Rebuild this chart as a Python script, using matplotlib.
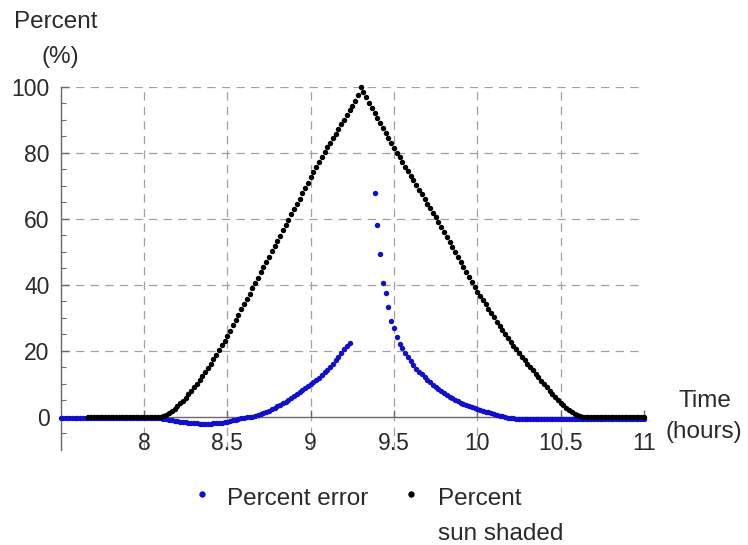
import numpy as np
import matplotlib
matplotlib.use("Agg")
import matplotlib.pyplot as plt
from matplotlib.lines import Line2D

plt.rcParams["font.family"] = ["Liberation Sans", "DejaVu Sans"]
plt.rcParams["lines.scale_dashes"] = False

nan = np.nan

# ---- sampling: one reading per minute from 7:30 to 11:00 ----
start_hour = 7.5
step_minutes = 1

# Percent sun shaded (black), 7:30 .. 11:00
black_pct = [
    # 7:30 - 7:39 (no points)
    nan, nan, nan, nan, nan, nan, nan, nan, nan, nan,
    # 7:40 - 8:06
    0.0, 0.0, 0.0, 0.0, 0.0, 0.0, 0.0, 0.0, 0.0, 0.0,
    0.0, 0.0, 0.0, 0.0, 0.0, 0.0, 0.0, 0.0, 0.0, 0.0,
    0.0, 0.0, 0.0, 0.0, 0.0, 0.0, 0.0,
    # 8:07 - 9:18
    0.2, 0.6, 1.1, 1.7, 2.4, 3.2, 4.0, 4.9, 5.8, 6.8,
    7.8, 8.9, 10.0, 11.1, 12.3, 13.5, 14.8, 16.1, 17.4, 18.8,
    20.2, 21.6, 23.0, 24.5, 26.1, 27.7, 29.3, 30.9, 32.5, 34.1,
    35.7, 37.3, 38.9, 40.5, 42.1, 43.7, 45.3, 46.9, 48.5, 50.1,
    51.7, 53.3, 54.9, 56.5, 58.1, 59.7, 61.3, 62.9, 64.5, 66.1,
    67.7, 69.3, 70.9, 72.5, 74.1, 75.6, 77.1, 78.6, 80.1, 81.6,
    83.0, 84.4, 85.8, 87.2, 88.6, 90.0, 91.4, 92.8, 94.2, 95.7,
    97.5, 99.8,
    # 9:19 - 10:37
    98.4, 96.8, 95.2, 93.6, 92.0, 90.5, 89.0, 87.5, 86.0, 84.5,
    83.0, 81.5, 80.0, 78.6, 77.2, 75.8, 74.4, 73.0, 71.6, 70.2,
    68.8, 67.4, 66.0, 64.6, 63.2, 61.8, 60.4, 58.9, 57.4, 55.9,
    54.4, 52.9, 51.4, 49.9, 48.4, 46.9, 45.4, 43.9, 42.4, 40.9,
    39.4, 37.9, 36.6, 35.3, 34.0, 32.7, 31.4, 30.1, 28.8, 27.5,
    26.3, 25.1, 23.9, 22.7, 21.5, 20.4, 19.3, 18.2, 17.1, 16.0,
    15.0, 14.0, 13.0, 12.0, 10.9, 9.9, 8.9, 7.9, 7.0, 6.1,
    5.1, 4.2, 3.4, 2.6, 1.9, 1.3, 0.8, 0.4, 0.1,
    # 10:38 - 11:00
    0.0, 0.0, 0.0, 0.0, 0.0, 0.0, 0.0, 0.0, 0.0, 0.0,
    0.0, 0.0, 0.0, 0.0, 0.0, 0.0, 0.0, 0.0, 0.0, 0.0,
    0.0, 0.0, 0.0,
]

# Percent error (blue), 7:30 .. 11:00
blue_pct = [
    # 7:30 - 8:06
    -0.5, -0.5, -0.5, -0.5, -0.5, -0.5, -0.5, -0.5, -0.5, -0.5,
    -0.5, -0.5, -0.5, -0.5, -0.5, -0.5, -0.5, -0.5, -0.5, -0.5,
    -0.5, -0.5, -0.5, -0.5, -0.5, -0.5, -0.5, -0.5, -0.5, -0.5,
    -0.5, -0.5, -0.5, -0.5, -0.5, -0.5, -0.5,
    # 8:07 - 8:39
    -0.6, -0.7, -0.9, -1.0, -1.2, -1.3, -1.5, -1.6, -1.7, -1.8,
    -1.9, -2.0, -2.0, -2.1, -2.1, -2.1, -2.1, -2.1, -2.0, -2.0,
    -1.9, -1.8, -1.7, -1.5, -1.3, -1.1, -0.9, -0.7, -0.5, -0.3,
    -0.2, -0.1, 0.0,
    # 8:40 - 9:14
    0.1, 0.4, 0.7, 1.0, 1.4, 1.8, 2.2, 2.6, 3.1, 3.6,
    4.1, 4.6, 5.1, 5.7, 6.2, 6.8, 7.4, 8.0, 8.6, 9.2,
    9.8, 10.5, 11.1, 11.8, 12.6, 13.4, 14.3, 15.2, 16.1, 17.1,
    18.2, 19.3, 20.4, 21.5, 22.3,
    # 9:15 - 9:22 (off scale, no points)
    nan, nan, nan, nan, nan, nan, nan, nan,
    # 9:23 - 9:31
    67.8, 58.0, 49.3, 40.5, 37.6, 33.3, 29.1, 26.8, 24.3,
    # 9:32 - 10:13
    21.9, 20.7, 19.4, 18.2, 16.9, 15.6, 14.5, 13.6, 12.8, 12.0,
    11.2, 10.4, 9.7, 9.1, 8.4, 7.8, 7.2, 6.7, 6.1, 5.6,
    5.1, 4.7, 4.3, 3.9, 3.5, 3.2, 2.9, 2.6, 2.3, 2.0,
    1.8, 1.5, 1.3, 1.0, 0.8, 0.5, 0.3, 0.1, -0.1, -0.3,
    -0.4, -0.5,
    # 10:14 - 11:00
    -0.7, -0.7, -0.7, -0.7, -0.7, -0.7, -0.7, -0.7, -0.7, -0.7,
    -0.7, -0.7, -0.7, -0.7, -0.7, -0.7, -0.7, -0.7, -0.7, -0.7,
    -0.7, -0.7, -0.7, -0.7, -0.7, -0.7, -0.7, -0.7, -0.7, -0.7,
    -0.7, -0.7, -0.6, -0.6, -0.6, -0.6, -0.6, -0.6, -0.6, -0.6,
    -0.6, -0.6, -0.6, -0.6, -0.6, -0.6, -0.6,
]

x_ticks = [8, 8.5, 9, 9.5, 10, 10.5, 11]
x_tick_labels = ["8", "8.5", "9", "9.5", "10", "10.5", "11"]
y_ticks = [0, 20, 40, 60, 80, 100]
y_tick_labels = ["0", "20", "40", "60", "80", "100"]
y_minor = [-5, 5, 10, 15, 25, 30, 35, 45, 50, 55, 65, 70, 75, 85, 90, 95]
grid_x = [8, 8.5, 9, 9.5, 10, 10.5]
grid_y = [20, 40, 60, 80, 100]

legend_labels = ["Percent error", "Percent\nsun shaded"]
blue = "#1010cc"
black = "#000000"
axis_col = "#6a6a6a"
text_col = "#2a2a2a"

hours = start_hour + np.arange(len(black_pct)) * step_minutes / 60.0

W, H = 748, 545
fig = plt.figure(figsize=(W / 100, H / 100), dpi=100)
ax = fig.add_axes([60.7 / W, 1 - 449.7 / H, (644 - 60.7) / W, (449.7 - 86.7) / H])
ax.set_xlim(7.5, 11)
ax.set_ylim(-10, 100)

for gx in grid_x:
    ax.axvline(gx, color="#a0a0a0", lw=0.9, ls=(0, (6, 4.5)), zorder=1)
for gy in grid_y:
    ax.axhline(gy, color="#a0a0a0", lw=0.9, ls=(0, (6, 4.5)), zorder=1)

ax.plot(hours, blue_pct, ls="none", marker="o", ms=3.9, mew=0,
        color=blue, zorder=3, clip_on=False)
ax.plot(hours, black_pct, ls="none", marker="o", ms=3.9, mew=0,
        color=black, zorder=4, clip_on=False)

for s in ["top", "right"]:
    ax.spines[s].set_visible(False)
ax.spines["left"].set_color(axis_col)
ax.spines["bottom"].set_color(axis_col)
ax.spines["bottom"].set_position(("data", 0))
ax.spines["left"].set_linewidth(1.0)
ax.spines["bottom"].set_linewidth(1.0)

ax.set_xticks(x_ticks)
ax.set_xticklabels(x_tick_labels)
ax.set_yticks(y_ticks)
ax.set_yticklabels(y_tick_labels)
ax.set_yticks(y_minor, minor=True)
ax.tick_params(axis="x", direction="in", length=5, width=1, pad=11,
               labelsize=16.5, color=axis_col, labelcolor=text_col)
ax.tick_params(axis="y", which="major", direction="in", length=6, width=1, pad=8,
               labelsize=16.5, color=axis_col, labelcolor=text_col)
ax.tick_params(axis="y", which="minor", direction="in", length=3.5, width=0.8,
               color=axis_col)

def ft(x, y, s, **kw):
    fig.text(x / W, 1 - y / H, s, fontsize=17.5, color=text_col, **kw)

ft(56, 28, "Percent", ha="center", va="baseline")
ft(60, 63, "(%)", ha="center", va="baseline")
ft(705, 407, "Time", ha="center", va="baseline")
ft(704, 438, "(hours)", ha="center", va="baseline")

# legend
fig.add_artist(Line2D([201.7 / W], [1 - 494.3 / H], marker="o", ms=4.6, mew=0,
                      color=blue, ls="none"))
fig.add_artist(Line2D([411 / W], [1 - 494.3 / H], marker="o", ms=4.6, mew=0,
                      color=black, ls="none"))
ft(226.7, 505, legend_labels[0], ha="left", va="baseline")
l1, l2 = legend_labels[1].split("\n")
ft(438, 505, l1, ha="left", va="baseline")
ft(438, 540, l2, ha="left", va="baseline")

fig.savefig("out.png", dpi=100)
